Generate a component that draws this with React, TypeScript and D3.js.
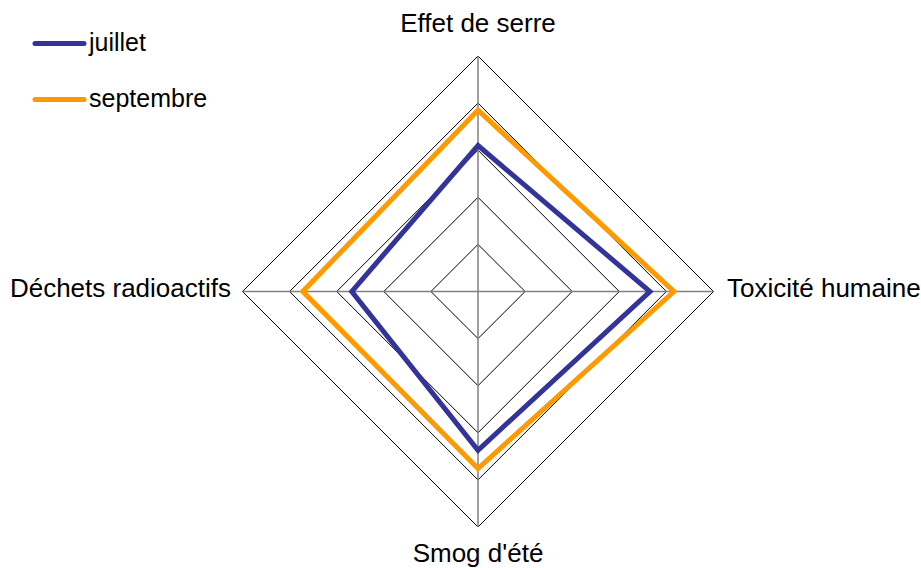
import React from "react";
import * as d3 from "d3";

const axes = ["Effet de serre", "Toxicité humaine", "Smog d'été", "Déchets radioactifs"];
const juillet = [3.1, 3.65, 3.37, 2.68];
const septembre = [3.85, 4.16, 3.76, 3.72];
const gridLevels = [1, 2, 3, 4, 5];
const seriesNames = ["juillet", "septembre"];
const seriesColors = ["#333399", "#FF9900"];

const W = 921, H = 568;
const cx = 478, cy = 291.5, R = 235.5;

export default function App() {
  const r = d3.scaleLinear().domain([0, 5]).range([0, R]);
  const angle = (i: number) => (i * 2 * Math.PI) / axes.length;
  const pt = (i: number, v: number): [number, number] => [
    cx + r(v) * Math.sin(angle(i)),
    cy - r(v) * Math.cos(angle(i)),
  ];
  const line = d3.line<[number, number]>().curve(d3.curveLinearClosed);
  const poly = (vals: number[]) => line(vals.map((v, i) => pt(i, v))) as string;
  const font = "'Liberation Sans', Arial, sans-serif";
  const labelPos = [
    { x: cx, y: 32, anchor: "middle" },
    { x: 727, y: 297, anchor: "start" },
    { x: cx, y: 562, anchor: "middle" },
    { x: 231, y: 297, anchor: "end" },
  ];
  return (
    <svg width={W} height={H} style={{ position: "absolute", left: 0, top: 0 }}>
      <rect width={W} height={H} fill="#fff" />
      {gridLevels.map((g) => (
        <path key={g} d={poly(axes.map(() => g))} fill="none" stroke="#000" strokeWidth={1} />
      ))}
      {axes.map((a, i) => {
        const [x, y] = pt(i, 5);
        return <line key={a} x1={cx} y1={cy} x2={x} y2={y} stroke="#808080" strokeWidth={1.5} />;
      })}
      {[juillet, septembre].map((s, k) => (
        <path key={k} d={poly(s)} fill="none" stroke={seriesColors[k]} strokeWidth={5} strokeLinejoin="miter" />
      ))}
      {axes.map((a, i) => (
        <text key={a} x={labelPos[i].x} y={labelPos[i].y} textAnchor={labelPos[i].anchor as any}
          fontFamily={font} fontSize={26} fill="#000">{a}</text>
      ))}
      {seriesNames.map((n, k) => (
        <g key={n}>
          <line x1={35} x2={84} y1={43.5 + k * 56} y2={43.5 + k * 56} stroke={seriesColors[k]} strokeWidth={5} strokeLinecap="round" />
          <text x={89} y={51 + k * 56} fontFamily={font} fontSize={25} fill="#000">{n}</text>
        </g>
      ))}
    </svg>
  );
}
